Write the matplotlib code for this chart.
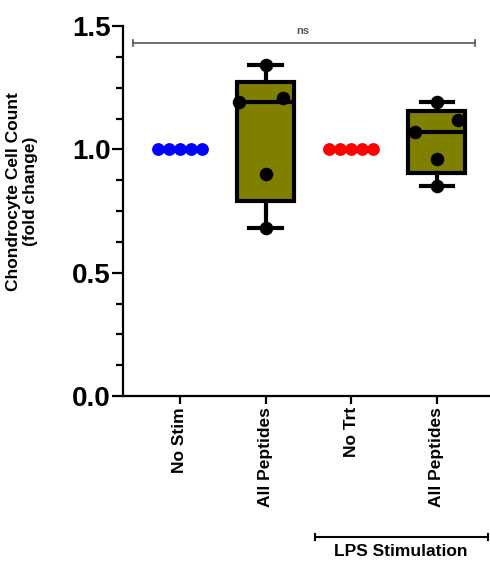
import matplotlib
matplotlib.use("Agg")
import matplotlib.pyplot as plt
import numpy as np

plt.rcParams['font.family'] = ['Liberation Sans', 'DejaVu Sans']

categories = ["No Stim", "All Peptides", "No Trt", "All Peptides"]
no_stim = [1.0, 1.0, 1.0, 1.0, 1.0]
peptides = [1.34, 1.19, 1.21, 0.90, 0.68]
no_trt = [1.0, 1.0, 1.0, 1.0, 1.0]
lps_peptides = [1.19, 1.12, 1.07, 0.96, 0.85]
peptides_jitter = [0.0, -0.31, 0.2, 0.0, 0.0]
lps_peptides_jitter = [0.0, 0.245, -0.26, 0.0, 0.0]
line_offsets = [-0.256, -0.128, 0.0, 0.128, 0.256]

fig = plt.figure(figsize=(4.9, 5.62), dpi=100)
ax = fig.add_axes([123/490, (562-396)/562, (490-123)/490, (396-26)/562])
ax.set_ylim(0, 1.5)
ax.set_xlim(-0.665, 3.62)

def stats(vals):
    v = np.array(vals)
    q1, med, q3 = np.percentile(v, [25, 50, 75], method='weibull')
    return dict(med=med, q1=q1, q3=q3, whislo=v.min(), whishi=v.max(), fliers=[])

ax.bxp([stats(peptides), stats(lps_peptides)], positions=[1, 3], widths=0.665,
       patch_artist=True, showfliers=False,
       boxprops=dict(facecolor='#808000', edgecolor='black', linewidth=3),
       medianprops=dict(color='black', linewidth=3),
       whiskerprops=dict(color='black', linewidth=3),
       capprops=dict(color='black', linewidth=3), capwidths=0.38, zorder=2)

ax.scatter(np.array(line_offsets) + 0, no_stim, s=85, color='#0000ff', zorder=3, linewidths=0)
ax.scatter(np.array(line_offsets) + 2, no_trt, s=85, color='#ff0000', zorder=3, linewidths=0)
ax.scatter(np.array(peptides_jitter) + 1, peptides, s=95, color='black', zorder=4, linewidths=0)
ax.scatter(np.array(lps_peptides_jitter) + 3, lps_peptides, s=95, color='black', zorder=4, linewidths=0)

for s in ['top', 'right']:
    ax.spines[s].set_visible(False)
for s in ['left', 'bottom']:
    ax.spines[s].set_linewidth(1.6)

ax.set_yticks([0, 0.5, 1.0, 1.5])
ax.set_yticklabels(["0.0", "0.5", "1.0", "1.5"], fontsize=20, fontweight='bold')
ax.set_yticks(np.arange(0, 1.51, 0.125), minor=True)
ax.tick_params(axis='y', which='major', length=8, width=1.6, pad=1)
ax.tick_params(axis='y', which='minor', length=5, width=1.6)
ax.set_xticks(range(4))
ax.set_xticklabels(categories, rotation=90, fontsize=12.5, fontweight='bold')
ax.tick_params(axis='x', length=6, width=1.6, pad=2)
ax.set_ylabel("Chondrocyte Cell Count\n(fold change)", fontsize=12.5, fontweight='bold',
              va='center', linespacing=1.15)
ax.yaxis.set_label_coords((22 - 123) / 367, (396 - 191.5) / 370)

# significance bar
ysig = 1.431
ax.plot([-0.55, 3.45], [ysig, ysig], color='#555555', lw=1.2, clip_on=False)
for xe in [-0.55, 3.45]:
    ax.plot([xe, xe], [ysig - 0.012, ysig + 0.012], color='#555555', lw=1.2, clip_on=False)
ax.text(1.44, 1.48, "ns", ha='center', va='center', fontsize=8, fontweight='bold', color='#555555')

# LPS bracket (figure coords)
x0, x1, yb = 315/490, 488/490, 1 - 537/562
fig.add_artist(plt.Line2D([x0, x1], [yb, yb], color='black', lw=1.5))
for xe in [x0, x1]:
    fig.add_artist(plt.Line2D([xe, xe], [yb - 0.006, yb + 0.006], color='black', lw=1.5))
fig.text(401/490, 1 - 552/562, "LPS Stimulation", ha='center', va='center', fontsize=12.5, fontweight='bold')

fig.savefig("out.png", dpi=100)
